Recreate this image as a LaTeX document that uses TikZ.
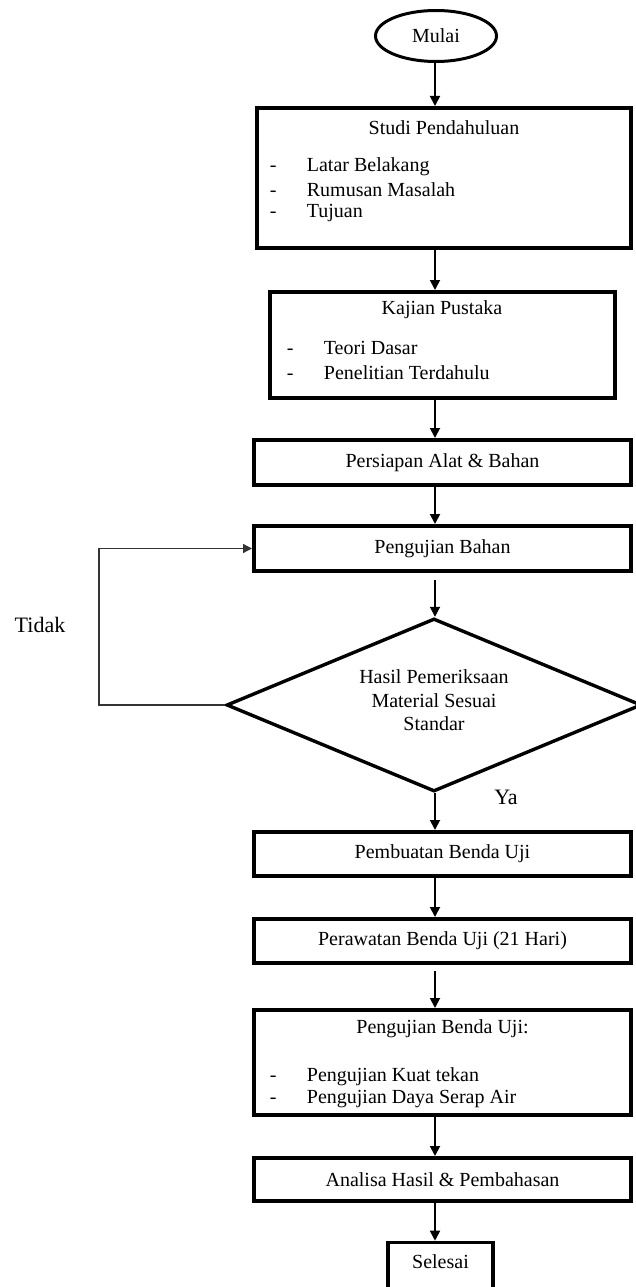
\documentclass[tikz,border=0pt]{standalone}
\usepackage{fontspec}
\setmainfont{Liberation Serif}
\usetikzlibrary{shapes.geometric,arrows.meta}

\newcommand{\butir}[1]{\makebox[37pt][l]{-}#1}

\begin{document}
\begin{tikzpicture}[x=1pt,y=-1pt,
  font=\fontsize{20}{23.5}\selectfont,
  kotak/.style={draw,rectangle,line width=3.6pt,inner sep=0pt,minimum width=377.4pt,minimum height=45pt},
  teks/.style={inner sep=0pt},
  panah/.style={line width=1.8pt,-{Triangle[length=10pt,width=10pt]}},
  balik/.style={line width=1.3pt,black!80,-{Triangle[length=9pt,width=9pt]}}]
\useasboundingbox (0,0) rectangle (635,1287);

\node[draw,ellipse,line width=3pt,minimum width=121pt,minimum height=51pt,inner sep=0pt] (mulai) at (436,36) {Mulai};

% Studi Pendahuluan
\node[kotak,minimum width=374.4pt,minimum height=140.4pt] (studi) at (444,178) {};
\node[teks] (studijudul) at (444,128) {Studi Pendahuluan};
\node[teks,anchor=west] (studi1) at (269.7,167) {\butir{Latar Belakang}};
\node[teks,anchor=west] (studi2) at (269.7,190) {\butir{Rumusan Masalah}};
\node[teks,anchor=west] (studi3) at (269.7,213) {\butir{Tujuan}};

% Kajian Pustaka
\node[kotak,minimum width=345.4pt,minimum height=106.4pt] (kajian) at (442.5,345) {};
\node[teks] (kajianjudul) at (442,310) {Kajian Pustaka};
\node[teks,anchor=west] (kajian1) at (286.7,348) {\butir{Teori Dasar}};
\node[teks,anchor=west] (kajian2) at (286.7,373) {\butir{Penelitian Terdahulu}};

\node[kotak,minimum height=45.4pt] (persiapan) at (442.5,462.5) {Persiapan Alat \& Bahan};
\node[kotak,minimum height=45.4pt] (bahan) at (442.5,548.5) {Pengujian Bahan};

% Decision
\node[draw,diamond,line width=3.4pt,inner sep=0pt,minimum width=415pt,minimum height=173pt] (cek) at (434,705) {};
\node[teks,align=center] (cekteks) at (434,700.5) {Hasil Pemeriksaan\\Material Sesuai\\Standar};

\node[kotak,minimum height=44.4pt] (buat) at (442.5,854) {Pembuatan Benda Uji};
\node[kotak,minimum height=44.4pt] (rawat) at (442.5,941) {Perawatan Benda Uji (21 Hari)};

% Pengujian Benda Uji
\node[kotak,minimum height=105.4pt] (benda) at (442.5,1062.5) {};
\node[teks] (bendajudul) at (442.5,1029) {Pengujian Benda Uji:};
\node[teks,anchor=west] (benda1) at (269.7,1077) {\butir{Pengujian Kuat tekan}};
\node[teks,anchor=west] (benda2) at (269.7,1099) {\butir{Pengujian Daya Serap Air}};

\node[kotak,minimum height=43.4pt] (analisa) at (442.5,1179.5) {Analisa Hasil \& Pembahasan};

\node[kotak,minimum width=105.4pt,minimum height=77pt] (selesai) at (440.5,1281) {};
\node[teks] (selesaiteks) at (440.5,1262) {Selesai};

% Labels
\node[teks,font=\fontsize{22}{26}\selectfont] (tidak) at (40,625) {Tidak};
\node[teks,font=\fontsize{22}{26}\selectfont] (ya) at (506,797) {Ya};

% Arrows
\coordinate (poros) at (435,0);
\coordinate (kiri) at (99,705);
\draw[panah] (mulai.south -| poros) -- (studi.north -| poros);
\draw[panah] (studi.south -| poros) -- (kajian.north -| poros);
\draw[panah] (kajian.south -| poros) -- (persiapan.north -| poros);
\draw[panah] (persiapan.south -| poros) -- (bahan.north -| poros);
\draw[panah] ([yshift=-7pt]bahan.south -| poros) -- (cek.north -| poros);
\draw[panah] (cek.south -| poros) -- (buat.north -| poros);
\draw[panah] (buat.south -| poros) -- (rawat.north -| poros);
\draw[panah] ([yshift=-6pt]rawat.south -| poros) -- (benda.north -| poros);
\draw[panah] (benda.south -| poros) -- (analisa.north -| poros);
\draw[panah] (analisa.south -| poros) -- (selesai.north -| poros);
\draw[balik] (cek.west) -- (kiri) |- (bahan.west);
\end{tikzpicture}
\end{document}
